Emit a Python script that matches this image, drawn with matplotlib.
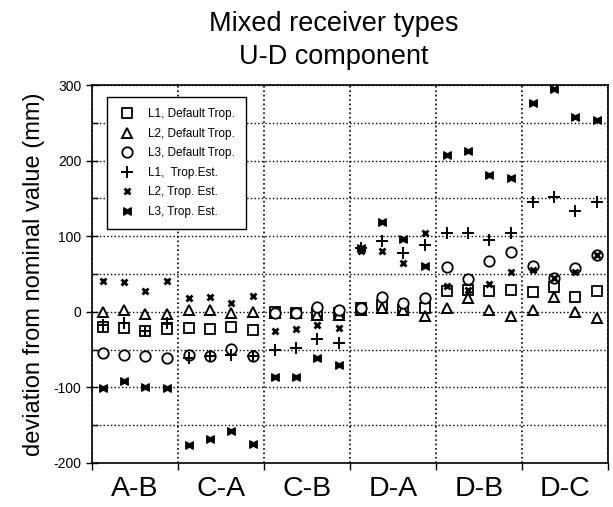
import matplotlib
matplotlib.use("Agg")
import matplotlib.pyplot as plt
import numpy as np
from matplotlib.path import Path
from matplotlib.ticker import MultipleLocator, FixedLocator, NullFormatter

plt.rcParams['font.family'] = ['Liberation Sans', 'DejaVu Sans']
plt.rcParams['axes.unicode_minus'] = False

groups = ['A-B', 'C-A', 'C-B', 'D-A', 'D-B', 'D-C']

L1_default = [-20, -22, -25, -23,  -22, -23, -20, -24,  0, -1, -2, -2,
              5, 9, 2, 5,  27, 29, 27, 29,  26, 33, 20, 27]
L2_default = [0, 2, -3, -3,  2, 2, -1, 0,  -1, -1, -4, -4,
              3, 5, 2, -6,  5, 18, 3, -6,  3, 20, 0, -8]
L3_default = [-54, -57, -58, -61,  -57, -59, -49, -59,  -2, -2, 7, 3,
              5, 19, 11, 18,  59, 43, 67, 79,  60, 45, 58, 75]
L1_est = [-17, -15, -25, -15,  -61, -59, -57, -59,  -50, -48, -36, -41,
          84, 94, 78, 89,  104, 104, 95, 104,  145, 152, 134, 146]
L2_est = [41, 39, 27, 41,  18, 20, 11, 21,  -26, -23, -17, -22,
          80, 81, 64, 104,  34, 29, 37, 53,  56, 45, 53, 75]
L3_est = [-101, -91, -100, -101,  -176, -169, -158, -175,  -86, -86, -61, -71,
          85, 119, 97, 61,  208, 213, 181, 177,  277, 295, 258, 254]

labels = ['L1, Default Trop.', 'L2, Default Trop.', 'L3, Default Trop.',
          'L1,  Trop.Est.', 'L2, Trop. Est.', 'L3, Trop. Est.']

offsets = [0.13, 0.37, 0.62, 0.87]
xs = np.array([g + o for g in range(len(groups)) for o in offsets])

bowtie = Path([(-1, -1), (0, -0.45), (1, -1), (1, 1), (0, 0.45), (-1, 1), (-1, -1)],
              [Path.MOVETO, Path.LINETO, Path.LINETO, Path.LINETO, Path.LINETO,
               Path.LINETO, Path.CLOSEPOLY])

fig = plt.figure(figsize=(6.13, 5.07), dpi=100)
ax = fig.add_axes([0.150, 0.087, 0.842, 0.745])

styles = [
    dict(marker='s', ms=6.5, mfc='white', mec='black', mew=1.3),
    dict(marker='^', ms=7, mfc='white', mec='black', mew=1.4),
    dict(marker='o', ms=7.5, mfc='white', mec='black', mew=1.3),
    dict(marker='+', ms=8.5, mec='black', mew=1.4),
    dict(marker='x', ms=5, mec='black', mew=2.0),
    dict(marker=bowtie, ms=5.5, mfc='black', mec='black', mew=0.8),
]
series = [L1_default, L2_default, L3_default, L1_est, L2_est, L3_est]
for vals, st, lab in zip(series, styles, labels):
    ax.plot(xs, vals, linestyle='none', color='black', label=lab, zorder=3, **st)

ax.set_xlim(0, len(groups))
ax.set_ylim(-200, 300)

ax.yaxis.set_major_locator(MultipleLocator(100))
ax.yaxis.set_minor_locator(MultipleLocator(50))
ax.xaxis.set_major_locator(FixedLocator(np.arange(0, len(groups) + 1)))
ax.xaxis.set_major_formatter(NullFormatter())
ax.tick_params(axis='y', which='major', direction='inout', length=8, width=1, labelsize=10)
ax.tick_params(axis='y', which='minor', direction='in', length=4, width=1)
ax.tick_params(axis='x', which='major', direction='out', length=5, width=1)

ax.grid(which='both', axis='y', linestyle=':', color='black', linewidth=1.0)
ax.grid(which='major', axis='x', linestyle=':', color='black', linewidth=1.2)
ax.set_axisbelow(True)
for sp in ax.spines.values():
    sp.set_linewidth(1.2)

for i, g in enumerate(groups):
    ax.text(i + 0.5, -0.035, g, transform=ax.get_xaxis_transform(),
            ha='center', va='top', fontsize=20.5)

ax.set_ylabel('deviation from nominal value (mm)', fontsize=17, labelpad=6)

fig.text(0.545, 0.978, 'Mixed receiver types\nU-D component', ha='center', va='top',
         fontsize=19.5, linespacing=1.35)

leg = ax.legend(loc='upper left', bbox_to_anchor=(0.029, 0.968), borderaxespad=0,
                fontsize=8.5, frameon=True, fancybox=False, edgecolor='black',
                framealpha=1, labelspacing=0.63, handletextpad=1.0,
                borderpad=0.95, handlelength=1.5, numpoints=1)
leg.get_frame().set_linewidth(1.0)

fig.savefig('out.png', dpi=100)
